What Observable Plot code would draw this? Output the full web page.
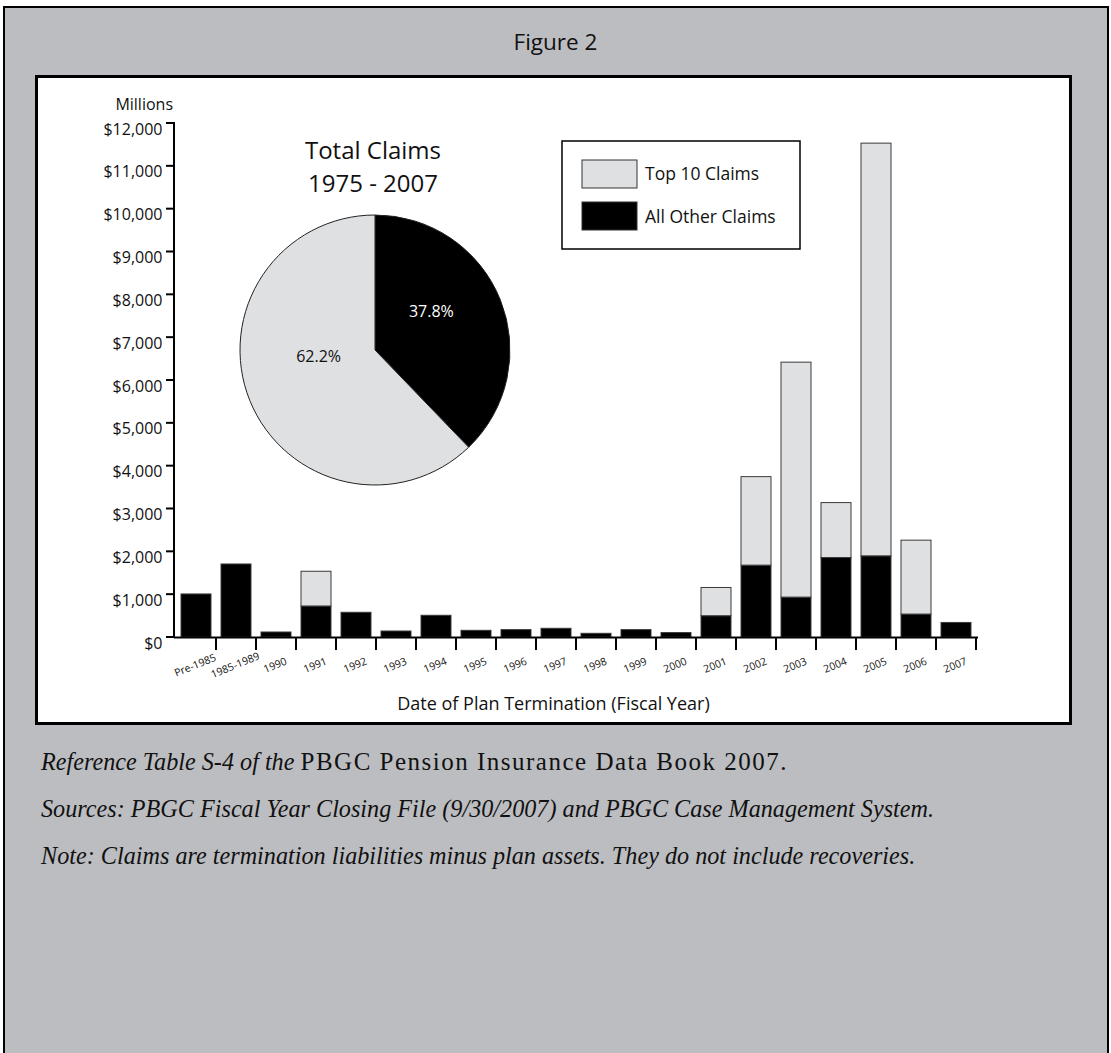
<!DOCTYPE html>
<html>
<head>
<meta charset="utf-8">
<script src="https://cdn.jsdelivr.net/npm/d3@7"></script>
<script src="https://cdn.jsdelivr.net/npm/@observablehq/plot@0.6"></script>
<style>
  html, body { margin: 0; padding: 0; background: #ffffff; }
  body { position: relative; width: 1111px; height: 1053px; overflow: hidden; }
  #outer { position: absolute; left: 3px; top: 6px; width: 1102px; height: 1100px; border: 2px solid #000; background: #bcbdc1; }
  #title { position: absolute; left: 0; top: 26px; width: 1111px; text-align: center; font-family: "Open Sans", sans-serif; font-size: 22.5px; color: #111; }
  #panel { position: absolute; left: 35px; top: 75px; width: 1031px; height: 644px; border: 3px solid #000; background: #fff; }
  #panel svg { display: block; }
  .foot { position: absolute; left: 41px; font-family: "Liberation Serif", serif; font-size: 24.2px; line-height: 24px; color: #111; white-space: nowrap; }
  .foot i { font-style: italic; }
  .foot .up { font-size: 25px; letter-spacing: 1.5px; }
</style>
</head>
<body>
<div id="outer"></div>
<div id="title">Figure 2</div>
<div id="panel"></div>
<div class="foot" style="top:750px"><i>Reference Table S-4 of the</i> <span class="up">PBGC Pension Insurance Data Book 2007.</span></div>
<div class="foot" style="top:797px"><i>Sources: PBGC Fiscal Year Closing File (9/30/2007) and PBGC Case Management System.</i></div>
<div class="foot" style="top:844px"><i>Note: Claims are termination liabilities minus plan assets. They do not include recoveries.</i></div>
<script>
// ---- data ----
const categories = ["Pre-1985","1985-1989","1990","1991","1992","1993","1994","1995","1996","1997","1998","1999","2000","2001","2002","2003","2004","2005","2006","2007"];
const allOtherClaims = [1005,1705,117,724,577,140,507,156,172,203,86,172,103,497,1678,932,1856,1895,536,340];
const top10Claims = [0,0,0,811,0,0,0,0,0,0,0,0,0,659,2066,5485,1282,9635,1725,0];
const seriesNames = ["All Other Claims","Top 10 Claims"];
const seriesColors = ["#000000","#dfe0e2"];
const legendOrder = ["Top 10 Claims","All Other Claims"];
const yTicks = [0,1000,2000,3000,4000,5000,6000,7000,8000,9000,10000,11000,12000];
const pieLabels = ["All Other Claims","Top 10 Claims"];
const pieShares = [37.8, 62.2];
const pieTitle = ["Total Claims","1975 - 2007"];
const yUnit = "Millions";
const xTitle = "Date of Plan Termination (Fiscal Year)";

const rows = categories.flatMap((c, i) => [
  {cat: c, series: seriesNames[0], value: allOtherClaims[i]},
  {cat: c, series: seriesNames[1], value: top10Claims[i]}
]).filter(d => d.value > 0);

const FONT = "'Open Sans', sans-serif";
const colorOf = s => seriesColors[seriesNames.indexOf(s)];

// custom overlay: axis lines, ticks, pie, legend, titles
function overlay(index, scales, values, dimensions) {
  const {width, height, marginLeft, marginRight, marginTop, marginBottom} = dimensions;
  const g = d3.create("svg:g").attr("text-anchor", "start");
  const x = scales.x, y = scales.y;
  const step = x(categories[1]) - x(categories[0]);
  const bw = x.bandwidth ? x.bandwidth() : step * 0.75;
  // y axis line + ticks
  g.append("line").attr("x1", marginLeft).attr("x2", marginLeft)
    .attr("y1", y(12000) - 1).attr("y2", y(0) + 1)
    .attr("stroke", "#000").attr("stroke-width", 2);
  yTicks.forEach(t => {
    g.append("line").attr("x1", marginLeft - 8).attr("x2", marginLeft)
      .attr("y1", y(t)).attr("y2", y(t))
      .attr("stroke", "#000").attr("stroke-width", 2);
  });
  // x boundary ticks
  categories.forEach(c => {
    const bx = x(c) + (step + bw) / 2;
    g.append("line").attr("x1", bx).attr("x2", bx)
      .attr("y1", y(0)).attr("y2", y(0) + 13)
      .attr("stroke", "#000").attr("stroke-width", 2);
  });
  // pie
  const cx = marginLeft + 201, cy = marginTop + 227, r = 135;
  const pie = d3.pie().sort(null).value(d => d.share)(pieLabels.map((l, i) => ({label: l, share: pieShares[i]})));
  const arc = d3.arc().innerRadius(0).outerRadius(r);
  const pg = g.append("g").attr("transform", `translate(${cx},${cy})`);
  pg.selectAll("path").data(pie).join("path")
    .attr("d", arc)
    .attr("fill", d => colorOf(d.data.label))
    .attr("stroke", "#222").attr("stroke-width", 1);
  const labelArc = d3.arc().innerRadius(r * 0.45).outerRadius(r * 0.45);
  pg.selectAll("text").data(pie).join("text")
    .attr("transform", d => {
      const [px, py] = labelArc.centroid(d);
      return `translate(${px},${py - 16})`;
    })
    .attr("text-anchor", "middle").attr("dy", "0.35em")
    .attr("font-family", FONT).attr("font-size", 16)
    .attr("fill", d => d.data.label === seriesNames[0] ? "#fff" : "#111")
    .text(d => d.data.share.toFixed(1) + "%");
  // pie title
  pieTitle.forEach((t, i) => {
    g.append("text").attr("x", cx - 2).attr("y", marginTop + 36 + i * 32.5)
      .attr("text-anchor", "middle").attr("font-family", FONT).attr("font-size", 24)
      .attr("fill", "#111").text(t);
  });
  // legend
  const lx = 524, ly = 63;
  const lg = g.append("g").attr("transform", `translate(${lx},${ly})`);
  lg.append("rect").attr("width", 238).attr("height", 108)
    .attr("fill", "#fff").attr("stroke", "#000").attr("stroke-width", 1.5);
  legendOrder.forEach((s, i) => {
    lg.append("rect").attr("x", 20).attr("y", 19 + i * 42).attr("width", 55).attr("height", 28)
      .attr("fill", colorOf(s)).attr("stroke", "#333").attr("stroke-width", 1);
    lg.append("text").attr("x", 83).attr("y", 33 + i * 43).attr("dy", "0.35em")
      .attr("text-anchor", "start")
      .attr("font-family", FONT).attr("font-size", 17.5).attr("fill", "#111").text(s);
  });
  // unit label
  g.append("text").attr("x", marginLeft - 1).attr("y", 26).attr("dy", "0.35em")
    .attr("text-anchor", "end").attr("font-family", FONT).attr("font-size", 16)
    .attr("fill", "#111").text(yUnit);
  // x title
  g.append("text").attr("x", width / 2).attr("y", y(0) + 67).attr("dy", "0.35em")
    .attr("text-anchor", "middle").attr("font-family", FONT).attr("font-size", 18)
    .attr("fill", "#111").text(xTitle);
  return g.node();
}

const chart = Plot.plot({
  width: 1031,
  height: 644,
  marginLeft: 136,
  marginRight: 91,
  marginTop: 45,
  marginBottom: 85,
  style: {fontFamily: FONT, background: "#fff", color: "#111", overflow: "visible"},
  x: {domain: categories, paddingInner: 0.25, paddingOuter: 0.125, axis: null},
  y: {domain: [0, 12000]},
  color: {domain: seriesNames, range: seriesColors},
  marks: [
    Plot.barY(rows, {x: "cat", y: "value", fill: "series", stroke: "#3a3a3a", strokeWidth: 1}),
    Plot.ruleY([0], {stroke: "#000", strokeWidth: 2}),
    Plot.axisY({ticks: yTicks, tickSize: 0, tickPadding: 12, tickFormat: d3.format("$,"), fontSize: 16, dy: 6, label: null}),
    Plot.text(categories, {x: d => d, text: d => d, frameAnchor: "bottom", dy: 31, rotate: -22, textAnchor: "middle", fontSize: 10.5, fill: "#111"}),
    overlay
  ]
});
document.getElementById("panel").appendChild(chart);
</script>
</body>
</html>
